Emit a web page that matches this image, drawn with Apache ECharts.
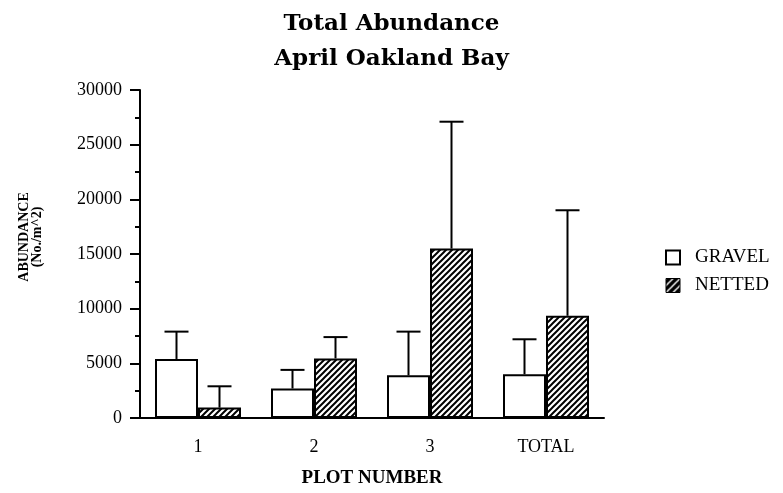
<!DOCTYPE html>
<html>
<head>
<meta charset="utf-8">
<script src="https://cdn.jsdelivr.net/npm/echarts@6/dist/echarts.min.js"></script>
<style>
  html, body { margin: 0; padding: 0; background: #fff; }
  #chart { width: 783px; height: 493px; }
</style>
</head>
<body>
<div id="chart"></div>
<script>
// 数据
const categories = ['1', '2', '3', 'TOTAL']
const gravel = [5400, 2700, 3900, 4000]
const netted = [950, 5450, 15500, 9350]
// 误差线（只画向上的一半）
const gravelErr = [2500, 1700, 4000, 3200]
const nettedErr = [1950, 1950, 11600, 9650]
const yTicks = { min: 0, max: 30000, interval: 5000 }

const BAR_W = 43
const serif = '"Liberation Serif", "Times New Roman", serif'

// 斜线填充
function makeHatch(size, bg, fg, lw) {
  const c = document.createElement('canvas')
  c.width = size
  c.height = size
  const ctx = c.getContext('2d')
  ctx.fillStyle = bg
  ctx.fillRect(0, 0, size, size)
  ctx.strokeStyle = fg
  ctx.lineWidth = lw
  ctx.beginPath()
  ctx.moveTo(-size / 2, size / 2); ctx.lineTo(size / 2, -size / 2)
  ctx.moveTo(0, size); ctx.lineTo(size, 0)
  ctx.moveTo(size / 2, size * 1.5); ctx.lineTo(size * 1.5, size / 2)
  ctx.stroke()
  return c
}
const hatch = { image: makeHatch(6, '#fff', '#000', 2), repeat: 'repeat' }
const hatchDark = { image: makeHatch(7, '#000', '#fff', 1.4), repeat: 'repeat' }

function errorSeries(name, means, errs, side) {
  return {
    name: name + '_err',
    type: 'custom',
    z: 5,
    data: means.map((m, i) => [i, m, m + errs[i]]),
    renderItem: function (params, api) {
      const base = api.coord([api.value(0), api.value(1)])
      const top = api.coord([api.value(0), api.value(2)])
      const x = base[0] + side * BAR_W / 2
      const style = { stroke: '#000', lineWidth: 2 }
      return {
        type: 'group',
        children: [
          { type: 'line', shape: { x1: x, y1: base[1], x2: x, y2: top[1] }, style: style },
          { type: 'line', shape: { x1: x - 12, y1: top[1], x2: x + 12, y2: top[1] }, style: style }
        ]
      }
    }
  }
}

const chart = echarts.init(document.getElementById('chart'))
chart.setOption({
  animation: false,
  backgroundColor: '#fff',
  title: {
    text: 'Total Abundance\nApril Oakland Bay',
    left: 'center',
    top: 2,
    textStyle: {
      fontFamily: '"DejaVu Serif", serif',
      fontWeight: 'bold',
      fontSize: 23,
      lineHeight: 35,
      color: '#000'
    }
  },
  legend: {
    orient: 'vertical',
    left: 660,
    top: 243,
    itemWidth: 14,
    itemHeight: 14,
    itemGap: 9,
    icon: 'rect',
    textStyle: { fontFamily: serif, fontSize: 19, color: '#000', padding: [0, 0, 0, 10] },
    data: [
      { name: 'GRAVEL', itemStyle: { color: '#fff', borderColor: '#000', borderWidth: 2 } },
      { name: 'NETTED', itemStyle: { color: hatchDark, borderColor: '#000', borderWidth: 1 } }
    ]
  },
  graphic: [
    {
      type: 'text',
      x: 31,
      y: 237,
      rotation: Math.PI / 2,
      style: {
        text: 'ABUNDANCE\n(No./m^2)',
        fontFamily: serif,
        fontWeight: 'bold',
        fontSize: 14,
        lineHeight: 13,
        fill: '#000',
        align: 'center',
        verticalAlign: 'middle'
      }
    }
  ],
  grid: { left: 140, right: 179, top: 90, bottom: 75, outerBoundsMode: 'none' },
  xAxis: {
    type: 'category',
    data: categories,
    name: 'PLOT NUMBER',
    nameLocation: 'middle',
    nameGap: 51,
    nameTextStyle: { fontFamily: serif, fontWeight: 'bold', fontSize: 19, color: '#000' },
    axisLine: { lineStyle: { color: '#000', width: 2 } },
    axisTick: { length: 4, lineStyle: { color: '#000', width: 2 } },
    axisLabel: { fontFamily: serif, fontSize: 18, color: '#000', margin: 20 }
  },
  yAxis: {
    type: 'value',
    min: yTicks.min,
    max: yTicks.max,
    interval: yTicks.interval,
    splitLine: { show: false },
    axisLine: { show: true, lineStyle: { color: '#000', width: 2 } },
    axisTick: { show: true, length: 10, lineStyle: { color: '#000', width: 2 } },
    minorTick: { show: true, splitNumber: 2, length: 5, lineStyle: { color: '#000', width: 2 } },
    axisLabel: {
      fontFamily: serif,
      fontSize: 18,
      color: '#000',
      margin: 18,
      formatter: v => String(v)
    }
  },
  series: [
    {
      name: 'GRAVEL',
      type: 'bar',
      barWidth: BAR_W,
      barGap: '0%',
      data: gravel,
      itemStyle: { color: '#fff', borderColor: '#000', borderWidth: 2 }
    },
    {
      name: 'NETTED',
      type: 'bar',
      barWidth: BAR_W,
      barGap: '0%',
      data: netted,
      itemStyle: { color: hatch, borderColor: '#000', borderWidth: 2 }
    },
    errorSeries('GRAVEL', gravel, gravelErr, -1),
    errorSeries('NETTED', netted, nettedErr, 1)
  ]
})
</script>
</body>
</html>
